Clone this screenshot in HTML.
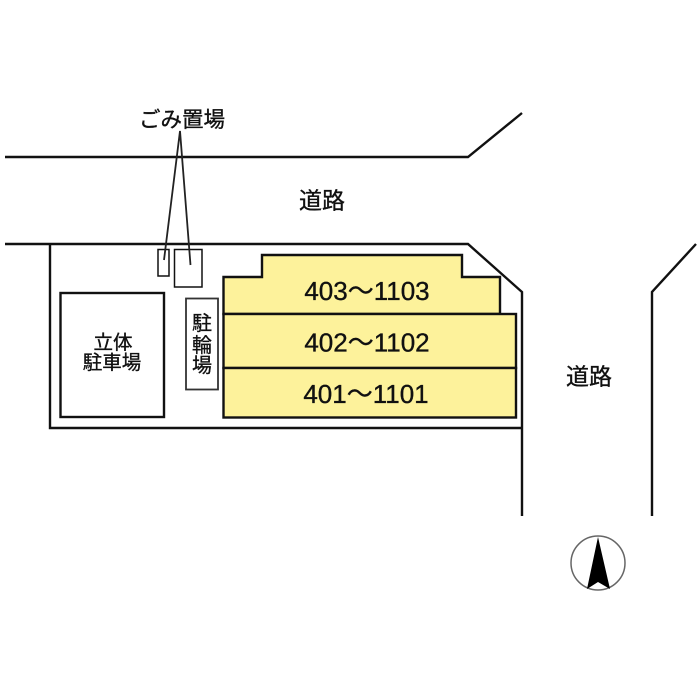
<!DOCTYPE html>
<html><head><meta charset="utf-8"><style>
html,body{margin:0;padding:0;background:#fff}
svg{display:block}
text{font-family:"Liberation Sans","Noto Sans CJK JP",sans-serif;fill:#111;stroke:#111;stroke-width:.35px;text-anchor:middle}
</style></head><body>
<svg width="700" height="700" viewBox="0 0 700 700" xmlns="http://www.w3.org/2000/svg">
<g fill="none" stroke="#111" stroke-width="2.4" stroke-linejoin="miter">
<path d="M5 157H468L522 113"/>
<path d="M5 244H468L522 292V516"/>
<path d="M50 244V428H522"/>
<path d="M696 244L652 292V516"/>
</g>
<g fill="#fdf29b" stroke="#111" stroke-width="2.4">
<path d="M223.500 277H262V255H462V277H500V314H223.500Z"/>
<rect x="223.500" y="314" width="292.500" height="54"/>
<rect x="223.500" y="368" width="292.500" height="49.500"/>
</g>
<g fill="#fff" stroke="#111">
<rect x="60.500" y="293" width="103.500" height="124" stroke-width="2.400"/>
<rect x="186" y="298.500" width="32" height="91" stroke="#333" stroke-width="1.800"/>
<rect x="158" y="249.500" width="11" height="26.500" stroke-width="1.500"/>
<rect x="174.500" y="249.500" width="27.500" height="37.500" stroke-width="1.500"/>
</g>
<g fill="none" stroke="#222" stroke-width="1.800">
<path d="M164 260L180 131L190.500 265"/>
</g>
<g font-size="21.500">
<text x="182" y="127">ごみ置場</text>
</g>
<g font-size="23">
<text x="322" y="208.500">道路</text>
<text x="589" y="384.500">道路</text>
</g>
<g font-size="19.500">
<text x="113" y="349">立体</text>
<text x="112" y="369">駐車場</text>
</g>
<g font-size="20">
<text x="202" y="330">駐</text>
<text x="202" y="352">輪</text>
<text x="202" y="372">場</text>
</g>
<g font-size="26">
<text x="367" y="300">403～1103</text>
<text x="367" y="351.500">402～1102</text>
<text x="366" y="403">401～1101</text>
</g>
<circle cx="598" cy="563" r="27" fill="#fff" stroke="#666" stroke-width="1.500"/>
<path d="M598 537L610 589L598 582L587 589Z" fill="#000"/>
</svg>
</body></html>
